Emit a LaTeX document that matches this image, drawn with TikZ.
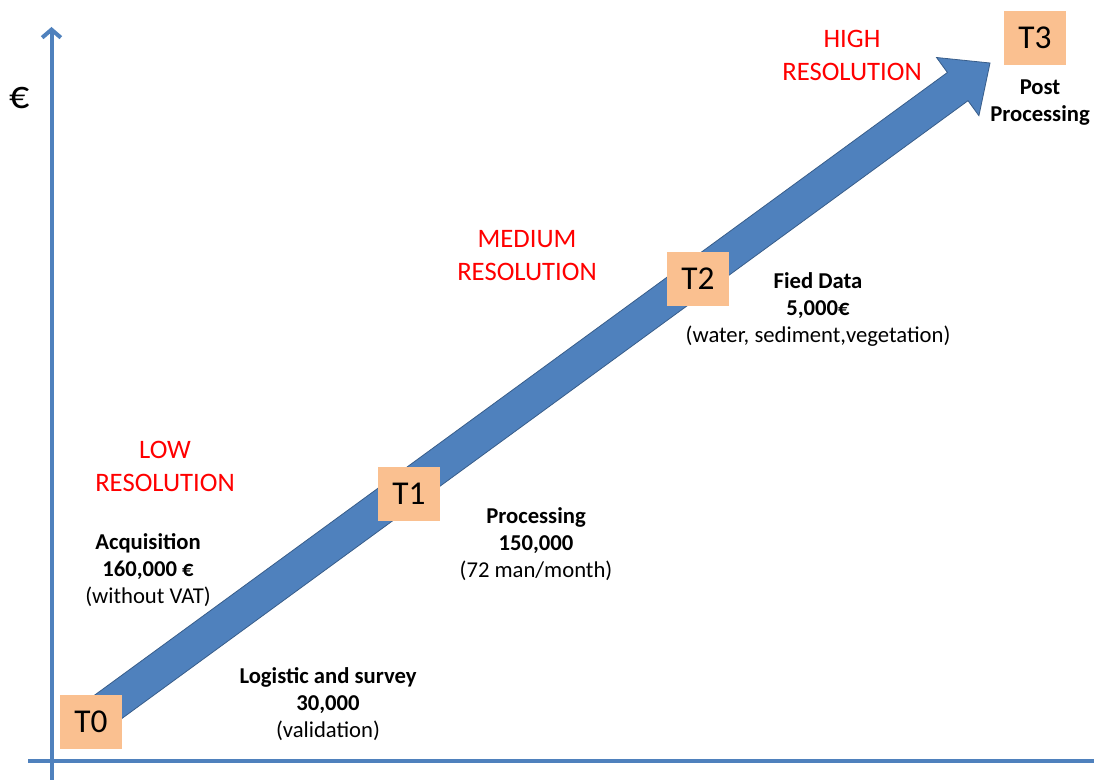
\documentclass[tikz,border=0pt]{standalone}
\usepackage{fontspec}
\setmainfont{Carlito}
\usetikzlibrary{arrows.meta}
\definecolor{axisblue}{HTML}{4F81BD}
\definecolor{arrowedge}{HTML}{385D8A}
\definecolor{tbox}{HTML}{FAC090}
\definecolor{resred}{HTML}{FF0000}
\begin{document}
\begin{tikzpicture}[x=.75pt,y=-.75pt,
  tstep/.style={fill=tbox,minimum width=46.5pt,minimum height=40.5pt,inner sep=0pt,font=\fontsize{25}{30}\selectfont},
  res/.style={text=resred,align=center,font=\fontsize{20}{24.75}\selectfont},
  cost/.style={align=center,font=\fontsize{17}{20.25}\selectfont},
  axis/.style={draw=axisblue,line width=3pt}]
\useasboundingbox (0,0) rectangle (1094,780);
% axes
\draw[axis] (28,761) -- (1094,761);
\draw[axis,-{Straight Barb[length=6pt,width=14pt]}] (51.5,780) -- (51.5,27);
\node (euro) at (20,98) {\fontsize{30}{36}\selectfont €};
% the big arrow
\draw[fill=axisblue,draw=arrowedge,line width=.6pt] (89.6,698.8) -- (947.4,72.5) -- (936.5,57.5) -- (990,63) -- (978.9,115.7) -- (968,100.7) -- (110.2,727) -- cycle;
\node[tstep] (t0) at (91,722) {T0};
\node[tstep] (t1) at (409,494) {T1};
\node[tstep] (t2) at (698,279) {T2};
\node[tstep] (t3) at (1035,38) {T3};
\node[res] (high) at (852,55) {HIGH\\RESOLUTION};
\node[res] (medium) at (527,256) {MEDIUM\\RESOLUTION};
\node[res] (low) at (165,466) {LOW\\RESOLUTION};
\node[cost] (post) at (1040,103) {\textbf{Post}\\\textbf{Processing}};
\node[cost] (field) at (818,309) {\textbf{Fied Data}\\\textbf{5,000€}\\(water, sediment,vegetation)};
\node[cost] (proc) at (536,544) {\textbf{Processing}\\\textbf{150,000}\\(72 man/month)};
\node[cost] (acq) at (148,570) {\textbf{Acquisition}\\\textbf{160,000 €}\\(without VAT)};
\node[cost] (logi) at (328,704) {\textbf{Logistic and survey}\\\textbf{30,000}\\(validation)};
\end{tikzpicture}
\end{document}
